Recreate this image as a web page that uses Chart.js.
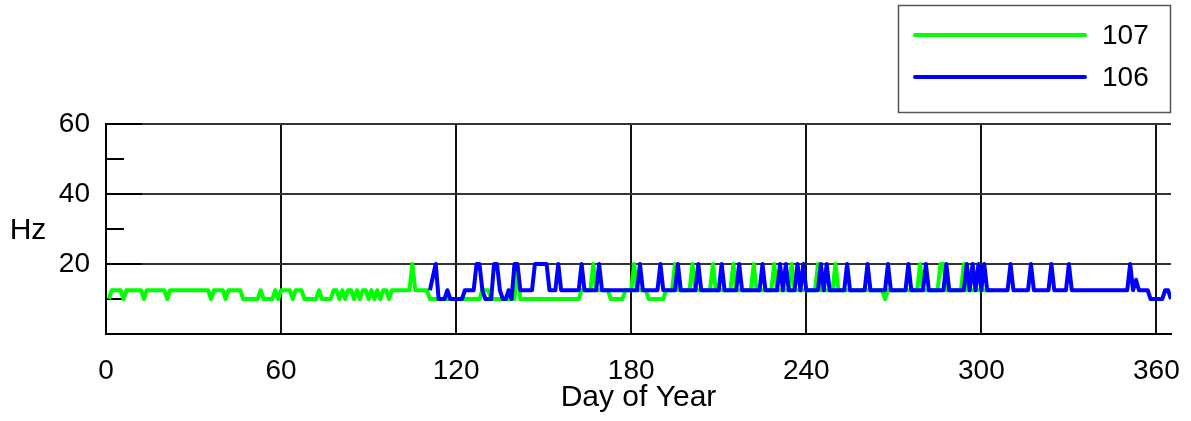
<!DOCTYPE html>
<html>
<head>
<meta charset="utf-8">
<script src="https://cdn.jsdelivr.net/npm/chart.js@4/dist/chart.umd.min.js"></script>
<style>
  html, body { margin: 0; padding: 0; background: #fff; }
  canvas { display: block; }
</style>
</head>
<body>
<canvas id="hzChart" width="1191" height="421"></canvas>
<script>
// station 107 (green): day of year / sampling rate in Hz, at the days where the rate changes
const greenDays = [1, 2, 5, 6, 7, 12, 13, 14, 20, 21, 22, 35, 36, 37, 40, 41, 42, 46, 47, 52, 53, 54, 57, 58, 59, 60, 63, 64, 65, 67, 68, 72, 73, 74, 77, 78, 79, 80, 81, 82, 83, 84, 85, 86, 87, 88, 89, 90, 91, 92, 93, 94, 95, 96, 97, 98, 104, 105, 106, 110, 111, 128, 129, 131, 132, 140, 141, 142, 162, 163, 166, 167, 168, 172, 173, 177, 178, 180, 181, 182, 185, 186, 191, 192, 194, 195, 196, 200, 201, 202, 207, 208, 209, 214, 215, 216, 221, 222, 223, 228, 229, 230, 234, 235, 236, 243, 244, 245, 249, 250, 251, 266, 267, 268, 278, 279, 280, 285, 286, 287, 288, 293, 294, 295, 304];
const greenHz = [10, 12.5, 12.5, 10, 12.5, 12.5, 10, 12.5, 12.5, 10, 12.5, 12.5, 10, 12.5, 12.5, 10, 12.5, 12.5, 10, 10, 12.5, 10, 10, 12.5, 10, 12.5, 12.5, 10, 12.5, 12.5, 10, 10, 12.5, 10, 10, 12.5, 12.5, 10, 12.5, 10, 12.5, 12.5, 10, 12.5, 10, 12.5, 12.5, 10, 12.5, 10, 12.5, 10, 12.5, 12.5, 10, 12.5, 12.5, 20, 12.5, 12.5, 10, 10, 12.5, 12.5, 10, 10, 20, 10, 10, 12.5, 12.5, 20, 12.5, 12.5, 10, 10, 12.5, 12.5, 20, 12.5, 12.5, 10, 10, 12.5, 12.5, 20, 12.5, 12.5, 20, 12.5, 12.5, 20, 12.5, 12.5, 20, 12.5, 12.5, 20, 12.5, 12.5, 20, 12.5, 12.5, 20, 12.5, 12.5, 20, 12.5, 12.5, 20, 12.5, 12.5, 10, 12.5, 12.5, 20, 12.5, 12.5, 20, 20, 12.5, 12.5, 20, 12.5, 12.5];

// station 106 (blue)
const blueDays = [111, 113, 114, 116, 117, 118, 122, 123, 126, 127, 128, 129, 130, 132, 133, 134, 135, 136, 137, 138, 139, 140, 141, 142, 143, 146, 147, 151, 152, 154, 155, 156, 162, 163, 164, 168, 169, 170, 182, 183, 184, 189, 190, 191, 195, 196, 197, 202, 203, 204, 210, 211, 212, 216, 217, 218, 224, 225, 226, 230, 231, 232, 233, 234, 236, 237, 238, 239, 240, 244, 245, 246, 247, 248, 253, 254, 255, 260, 261, 262, 267, 268, 269, 274, 275, 276, 280, 281, 282, 287, 288, 289, 294, 295, 296, 297, 298, 299, 300, 301, 302, 309, 310, 311, 316, 317, 318, 323, 324, 325, 329, 330, 331, 350, 351, 352, 353, 354, 357, 358, 362, 363, 364, 365];
const blueHz = [12.5, 20, 10, 10, 12.5, 10, 10, 12.5, 12.5, 20, 20, 12.5, 10, 10, 20, 20, 12.5, 10, 10, 12.5, 10, 20, 20, 12.5, 12.5, 12.5, 20, 20, 12.5, 12.5, 20, 12.5, 12.5, 20, 12.5, 12.5, 20, 12.5, 12.5, 20, 12.5, 12.5, 20, 12.5, 12.5, 20, 12.5, 12.5, 20, 12.5, 12.5, 20, 12.5, 12.5, 20, 12.5, 12.5, 20, 12.5, 12.5, 20, 12.5, 20, 12.5, 12.5, 20, 12.5, 20, 12.5, 12.5, 20, 12.5, 20, 12.5, 12.5, 20, 12.5, 12.5, 20, 12.5, 12.5, 20, 12.5, 12.5, 20, 12.5, 12.5, 20, 12.5, 12.5, 20, 12.5, 12.5, 20, 12.5, 20, 12.5, 20, 12.5, 20, 12.5, 12.5, 20, 12.5, 12.5, 20, 12.5, 12.5, 20, 12.5, 12.5, 20, 12.5, 12.5, 20, 12.5, 15.5, 12.5, 12.5, 10, 10, 12.5, 12.5, 10];

const xTicks = [0, 60, 120, 180, 240, 300, 360];
const yTicks = [20, 40, 60];

const FAMILY = "'Liberation Sans', Arial, sans-serif";
const TICK_FONT = { family: FAMILY, size: 28 };
const TITLE_FONT = { family: FAMILY, size: 30 };

const toPoints = (days, values) => days.map((d, i) => ({ x: d, y: values[i] }));

// slightly heavier stubs on the left axis, longer ones at the labelled values
const innerTicks = {
    id: 'innerTicks',
    beforeDatasetsDraw(chart) {
        const { ctx, chartArea, scales } = chart;
        ctx.save();
        ctx.strokeStyle = '#000';
        ctx.lineWidth = 2;
        for (let v = 10; v <= 60; v += 10) {
            const y = Math.round(scales.y.getPixelForValue(v));
            const len = yTicks.includes(v) ? 36 : 18;
            ctx.beginPath();
            ctx.moveTo(chartArea.left, y);
            ctx.lineTo(chartArea.left + len, y);
            ctx.stroke();
        }
        ctx.restore();
    }
};

// "Hz" label (not rotated) and the boxed legend at top right
const extras = {
    id: 'extras',
    afterDraw(chart) {
        const { ctx } = chart;
        ctx.save();
        ctx.font = `${TITLE_FONT.size}px ${FAMILY}`;
        ctx.fillStyle = '#000';
        ctx.textAlign = 'center';
        ctx.textBaseline = 'middle';
        ctx.fillText('Hz', 28, 231);

        ctx.strokeStyle = '#555';
        ctx.lineWidth = 1.5;
        ctx.strokeRect(898.5, 5.5, 272, 107);

        ctx.font = `28px ${FAMILY}`;
        const entries = [chart.data.datasets[1], chart.data.datasets[0]];
        entries.forEach((ds, i) => {
            const y = 35 + i * 42;
            ctx.strokeStyle = ds.borderColor;
            ctx.lineWidth = 4;
            ctx.lineCap = 'round';
            ctx.beginPath();
            ctx.moveTo(915, y);
            ctx.lineTo(1085, y);
            ctx.stroke();
            ctx.textAlign = 'left';
            ctx.fillText(ds.label, 1102, y + 1);
        });
        ctx.restore();
    }
};

const ctx = document.getElementById('hzChart').getContext('2d');
new Chart(ctx, {
    type: 'line',
    data: {
        datasets: [
            {
                label: '106',
                data: toPoints(blueDays, blueHz),
                borderColor: '#0000ff',
                borderWidth: 4,
                borderJoinStyle: 'round',
                pointRadius: 0,
                tension: 0,
                fill: false
            },
            {
                label: '107',
                data: toPoints(greenDays, greenHz),
                borderColor: '#00ff00',
                borderWidth: 4,
                borderJoinStyle: 'round',
                pointRadius: 0,
                tension: 0,
                fill: false
            }
        ]
    },
    options: {
        responsive: false,
        animation: false,
        layout: { padding: { top: 124, right: 20, left: 0, bottom: 0 } },
        plugins: {
            legend: { display: false },
            tooltip: { enabled: false }
        },
        scales: {
            x: {
                type: 'linear',
                min: 0,
                max: 365,
                afterFit: (scale) => { scale.height = 87; scale.paddingRight = 0; },
                afterBuildTicks: (scale) => { scale.ticks = xTicks.map(v => ({ value: v })); },
                ticks: {
                    autoSkip: false,
                    maxRotation: 0,
                    color: '#000',
                    font: TICK_FONT,
                    padding: 20
                },
                grid: { color: '#111', lineWidth: 2, drawTicks: false },
                border: { color: '#000', width: 2 },
                title: {
                    display: true,
                    text: 'Day of Year',
                    color: '#000',
                    font: TITLE_FONT,
                    padding: { top: 0, bottom: 5 }
                }
            },
            y: {
                min: 0,
                max: 60,
                afterFit: (scale) => { scale.width = 106; },
                ticks: {
                    stepSize: 10,
                    color: '#000',
                    font: TICK_FONT,
                    padding: 16,
                    callback: (v) => yTicks.includes(v) ? v : ''
                },
                grid: { color: '#333', lineWidth: 2, drawTicks: false },
                border: { color: '#000', width: 2 }
            }
        }
    },
    plugins: [innerTicks, extras]
});
</script>
</body>
</html>
